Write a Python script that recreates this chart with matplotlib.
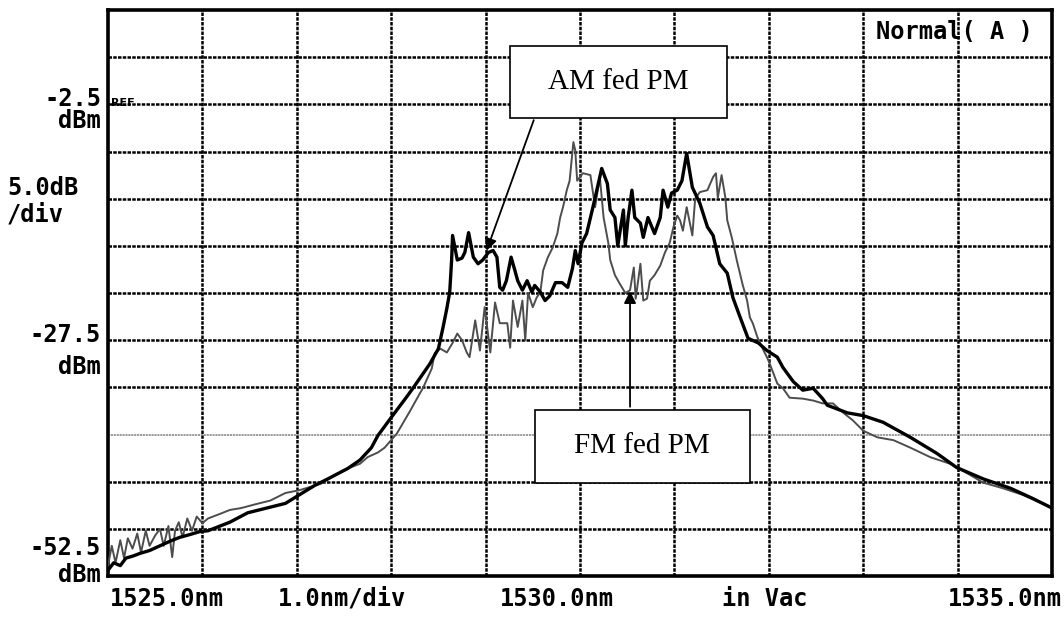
import matplotlib
matplotlib.use('Agg')
from matplotlib import pyplot as plt
from matplotlib.patches import Rectangle

# wavelength (nm) and power (dBm)
am_wl = [1525.00, 1525.06, 1525.13, 1525.19, 1525.26, 1525.34, 1525.44, 1525.55, 1525.66, 1525.76,
         1525.87, 1525.97, 1526.06, 1526.29, 1526.48, 1526.72, 1526.88, 1527.01, 1527.19, 1527.33,
         1527.54, 1527.67, 1527.79, 1527.86, 1528.00, 1528.15, 1528.23, 1528.41, 1528.50, 1528.55,
         1528.59, 1528.62, 1528.64, 1528.65, 1528.70, 1528.75, 1528.78, 1528.82, 1528.87, 1528.92,
         1528.97, 1529.03, 1529.08, 1529.12, 1529.15, 1529.18, 1529.22, 1529.27, 1529.31, 1529.34,
         1529.39, 1529.44, 1529.49, 1529.52, 1529.58, 1529.63, 1529.68, 1529.74, 1529.81, 1529.87,
         1529.92, 1529.95, 1529.98, 1530.02, 1530.07, 1530.13, 1530.16, 1530.23, 1530.29, 1530.32,
         1530.37, 1530.40, 1530.46, 1530.48, 1530.51, 1530.55, 1530.58, 1530.64, 1530.67, 1530.72,
         1530.79, 1530.85, 1530.88, 1530.93, 1530.97, 1531.03, 1531.08, 1531.13, 1531.19, 1531.27,
         1531.35, 1531.41, 1531.48, 1531.56, 1531.62, 1531.69, 1531.78, 1531.89, 1531.98, 1532.09,
         1532.15, 1532.26, 1532.36, 1532.47, 1532.57, 1532.62, 1532.83, 1533.00, 1533.21, 1533.50,
         1533.78, 1533.99, 1534.27, 1534.56, 1534.80, 1535.00]
am_dbm = [-51.9, -51.1, -51.4, -50.6, -50.4, -50.1, -49.8, -49.3, -48.8, -48.4,
          -48.1, -47.8, -47.7, -46.8, -45.8, -45.2, -44.8, -44.0, -42.9, -42.2,
          -41.1, -40.2, -38.9, -37.6, -35.7, -33.7, -32.6, -30.0, -28.4, -26.1,
          -24.1, -22.4, -19.0, -16.4, -19.0, -18.8, -18.2, -16.1, -18.7, -19.4,
          -19.0, -18.2, -18.0, -18.7, -21.9, -22.2, -21.2, -18.7, -20.1, -21.2,
          -22.2, -21.2, -22.4, -21.7, -22.4, -23.3, -22.8, -21.4, -21.4, -21.9,
          -19.9, -18.0, -19.4, -17.2, -16.2, -13.7, -12.4, -9.3, -10.9, -13.7,
          -14.5, -17.5, -13.7, -17.5, -14.5, -11.6, -14.5, -15.1, -16.6, -14.5,
          -16.2, -14.5, -11.6, -13.4, -11.9, -11.6, -10.6, -7.7, -11.3, -13.0,
          -15.5, -16.4, -19.4, -20.4, -23.0, -24.9, -27.3, -27.8, -28.6, -29.3,
          -30.4, -31.9, -32.8, -32.6, -33.7, -34.4, -35.2, -35.5, -36.2, -37.8,
          -39.5, -41.0, -42.2, -43.2, -44.3, -45.3]

fm_wl = [1525.00, 1525.04, 1525.08, 1525.13, 1525.17, 1525.21, 1525.26, 1525.31, 1525.35, 1525.40,
         1525.44, 1525.50, 1525.55, 1525.59, 1525.64, 1525.68, 1525.71, 1525.75, 1525.79, 1525.84,
         1525.89, 1525.94, 1526.00, 1526.06, 1526.19, 1526.29, 1526.41, 1526.56, 1526.72, 1526.88,
         1527.03, 1527.26, 1527.40, 1527.54, 1527.67, 1527.75, 1527.86, 1527.93, 1528.06, 1528.20,
         1528.34, 1528.43, 1528.46, 1528.52, 1528.59, 1528.65, 1528.70, 1528.75, 1528.80, 1528.83,
         1528.89, 1528.94, 1528.99, 1529.05, 1529.10, 1529.15, 1529.23, 1529.26, 1529.29, 1529.34,
         1529.39, 1529.42, 1529.45, 1529.50, 1529.54, 1529.58, 1529.61, 1529.66, 1529.71, 1529.76,
         1529.79, 1529.82, 1529.86, 1529.89, 1529.93, 1529.95, 1529.97, 1530.03, 1530.11, 1530.16,
         1530.21, 1530.25, 1530.30, 1530.32, 1530.37, 1530.42, 1530.48, 1530.53, 1530.57, 1530.59,
         1530.64, 1530.67, 1530.71, 1530.74, 1530.79, 1530.85, 1530.90, 1530.95, 1530.99, 1531.03,
         1531.06, 1531.09, 1531.13, 1531.19, 1531.22, 1531.27, 1531.35, 1531.41, 1531.44, 1531.46,
         1531.50, 1531.54, 1531.56, 1531.61, 1531.66, 1531.72, 1531.77, 1531.80, 1531.83, 1531.88,
         1531.93, 1531.98, 1532.01, 1532.09, 1532.15, 1532.22, 1532.36, 1532.47, 1532.57, 1532.68,
         1532.79, 1532.89, 1533.00, 1533.15, 1533.32, 1533.50, 1533.71, 1533.92, 1534.10, 1534.27,
         1534.48, 1534.69, 1534.87, 1535.00]
fm_dbm = [-51.4, -49.3, -51.1, -48.7, -50.6, -48.5, -49.6, -48.0, -50.0, -47.7,
          -49.3, -48.2, -47.5, -49.3, -47.2, -50.5, -47.7, -46.8, -48.4, -46.4,
          -47.7, -46.2, -46.9, -46.4, -45.9, -45.5, -45.3, -44.9, -44.5, -43.7,
          -43.4, -42.7, -41.8, -41.1, -40.6, -39.9, -39.4, -38.9, -37.4, -35.0,
          -32.5, -30.5, -28.9, -28.4, -28.8, -27.8, -26.8, -27.5, -28.8, -29.3,
          -25.4, -28.6, -24.0, -28.8, -23.5, -25.7, -25.7, -28.3, -23.3, -26.1,
          -23.3, -27.5, -22.5, -24.0, -23.0, -22.4, -20.1, -18.7, -17.7, -16.2,
          -14.5, -13.4, -11.6, -10.6, -6.5, -7.4, -10.6, -9.8, -10.0, -13.4,
          -10.2, -14.5, -17.2, -19.0, -20.6, -21.5, -22.5, -22.2, -19.8, -23.1,
          -19.4, -23.3, -23.1, -21.2, -20.6, -19.6, -18.2, -17.2, -15.5, -14.3,
          -14.8, -15.9, -13.4, -16.4, -12.5, -11.8, -11.6, -10.2, -9.8, -12.4,
          -10.0, -12.4, -14.8, -16.7, -19.0, -21.5, -23.3, -25.1, -25.7, -27.2,
          -28.3, -29.3, -30.0, -32.1, -32.6, -33.6, -33.7, -33.9, -34.2, -34.2,
          -35.2, -36.0, -37.1, -37.8, -38.1, -38.9, -39.9, -40.6, -41.6, -42.6,
          -43.2, -43.9, -44.7, -45.2]

W, H = 1064, 617
fig = plt.figure(figsize=(W / 100, H / 100), dpi=100)
ax = fig.add_axes([108 / W, 1 - 576 / H, 944 / W, 566 / H])

ax.set_xlim(1525, 1535)
ax.set_ylim(-52.5, 7.5)

# screen graticule: 10 x 12 divisions, dotted
for i in range(1, 10):
    ax.axvline(1525 + i, color='black', lw=1.8, ls=(0, (1.4, 0.5)), zorder=1)
for i in range(1, 12):
    y = -52.5 + 5 * i
    c = '#808080' if y == -37.5 else 'black'
    w = 1.1 if y == -37.5 else 1.8
    ax.axhline(y, color=c, lw=w, ls=(0, (1.4, 0.5)), zorder=1)

ax.plot(fm_wl, fm_dbm, color='#4d4d4d', lw=1.4, zorder=3)
ax.plot(am_wl, am_dbm, color='black', lw=2.4, zorder=4)

ax.set_xticks([])
ax.set_yticks([])
for s in ax.spines.values():
    s.set_linewidth(2.6)

# instrument text
mono = dict(family='DejaVu Sans Mono', fontsize=17, fontweight='bold', color='black')


def ftext(px, py, s, ha='left', **kw):
    fig.text(px / W, 1 - py / H, s, ha=ha, va='center', **{**mono, **kw})


ftext(101, 99, '-2.5', ha='right')
ftext(101, 121, 'dBm', ha='right')
ftext(7, 188, '5.0dB')
ftext(7, 215, '/div')
ftext(101, 335, '-27.5', ha='right')
ftext(101, 367, 'dBm', ha='right')
ftext(101, 548, '-52.5', ha='right')
ftext(101, 575, 'dBm', ha='right')
ftext(110, 599, '1525.0nm')
ftext(278, 599, '1.0nm/div')
ftext(500, 599, '1530.0nm')
ftext(722, 599, 'in Vac')
ftext(1062, 599, '1535.0nm', ha='right')
ftext(876, 32, 'Normal( A )')
fig.text(111 / W, 1 - 103 / H, 'REF', ha='left', va='center',
         family='DejaVu Sans', fontsize=8, fontweight='bold')

# annotation boxes
serif = dict(family='Liberation Serif', fontsize=21, color='black')
ax.add_patch(Rectangle((1529.26, -4.0), 2.30, 7.65, facecolor='white',
                       edgecolor='black', lw=1.2, zorder=6))
ax.text(1530.41, -0.15, 'AM fed PM', ha='center', va='center', zorder=7, **serif)
ax.annotate('', xy=(1529.00, -18.3), xytext=(1529.52, -3.9),
            arrowprops=dict(arrowstyle='-|>', color='black', lw=1.3,
                            mutation_scale=18), zorder=7)

ax.add_patch(Rectangle((1529.52, -42.6), 2.28, 7.75, facecolor='white',
                       edgecolor='black', lw=1.2, zorder=6))
ax.text(1530.66, -38.7, 'FM fed PM', ha='center', va='center', zorder=7, **serif)
ax.annotate('', xy=(1530.53, -22.0), xytext=(1530.53, -34.85),
            arrowprops=dict(arrowstyle='-|>', color='black', lw=1.3,
                            mutation_scale=18), zorder=7)

fig.savefig('out.png', dpi=100, facecolor='white')
